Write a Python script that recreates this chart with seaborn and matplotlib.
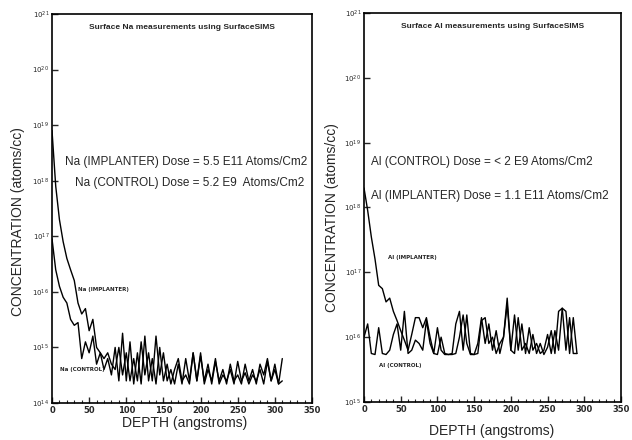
import matplotlib
matplotlib.use("Agg")
import matplotlib.pyplot as plt
import matplotlib.ticker as mticker
import seaborn as sns
import pandas as pd

# ---------------- data ----------------
na_depth = [0, 5, 10, 15, 20, 25, 30, 35, 40, 45, 50, 55, 60, 65, 70, 75, 80, 85, 90, 95,
            100, 105, 110, 115, 120, 125, 130, 135, 140, 145, 150, 155, 160, 165, 170, 175,
            180, 185, 190, 195, 200, 205, 210, 215, 220, 225, 230, 235, 240, 245, 250, 255,
            260, 265, 270, 275, 280, 285, 290, 295, 300, 305, 310]
na_implanter = [8e18, 8e17, 2e17, 8e16, 4e16, 2.5e16, 1.6e16, 6.3e15, 4e15, 5e15, 2e15, 3.2e15,
                1e15, 8e14, 6.3e14, 8e14, 5e14, 4e14, 1e15, 3.2e14,
                8e14, 2.5e14, 6.3e14, 2.5e14, 1.26e15, 3.2e14, 8e14, 2.5e14, 1.6e15, 3.2e14,
                8e14, 2.5e14, 4e14, 2.2e14, 5e14, 2.2e14, 6.3e14, 2.5e14, 8e14, 2.5e14,
                7e14, 2.5e14, 5e14, 2.2e14, 5.6e14, 2.5e14, 4e14, 2.2e14, 5e14, 2.5e14,
                3.2e14, 2.2e14, 5e14, 2.5e14, 4e14, 2.2e14, 5e14, 3.2e14, 6.3e14, 2.5e14,
                5e14, 2.2e14, 6.3e14]
na_control = [9e16, 2.5e16, 1.26e16, 8e15, 6.3e15, 3.2e15, 2.5e15, 2.8e15, 6.3e14, 1.26e15,
              8e14, 1.6e15, 5e14, 8e14, 4e14, 6.3e14, 3.2e14, 1e15, 2.5e14, 1.8e15,
              2.5e14, 1.26e15, 2.2e14, 8e14, 2.2e14, 1.6e15, 2.5e14, 6.3e14, 2.2e14, 1e15,
              2.5e14, 5e14, 2.2e14, 4e14, 6.3e14, 2.5e14, 3.2e14, 2.2e14, 8e14, 2.5e14,
              8e14, 2.2e14, 4e14, 2.5e14, 6.3e14, 2.2e14, 3.2e14, 2.5e14, 4e14, 2.2e14,
              5.6e14, 2.5e14, 3.5e14, 2.2e14, 3.2e14, 2.5e14, 4e14, 2.2e14, 5.6e14, 2.5e14,
              4e14, 2.2e14, 2.5e14]

al_depth = [0, 5, 10, 15, 20, 25, 30, 35, 40, 45, 50, 55, 60, 65, 70, 75, 80, 85, 90, 95,
            100, 105, 110, 115, 120, 125, 130, 135, 140, 145, 150, 155, 160, 165, 170, 175,
            180, 185, 190, 195, 200, 205, 210, 215, 220, 225, 230, 235, 240, 245, 250, 255,
            260, 265, 270, 275, 280, 285, 290]
al_implanter = [2e18, 9e17, 3.5e17, 1.6e17, 6.3e16, 5.6e16, 3.5e16, 4e16, 2.5e16, 1.8e16,
                1.26e16, 9e15, 6.3e15, 1.1e16, 2e16, 2e16, 1.4e16, 2e16, 1e16, 5.6e15,
                1.4e16, 6.3e15, 5.4e15, 5.4e15, 5.6e15, 1.6e16, 2.5e16, 6.3e15, 2.2e16, 5.6e15,
                5.4e15, 5.6e15, 1.8e16, 2e16, 8e15, 1e16, 5.6e15, 8e15, 1e16, 3.2e16,
                6.3e15, 2.2e16, 6.3e15, 1.6e16, 5.6e15, 1.4e16, 6.3e15, 8e15, 5.6e15, 6.3e15,
                1.1e16, 5.6e15, 1.26e16, 6.3e15, 2.8e16, 2.5e16, 5.6e15, 2e16, 5.6e15]
al_control = [1e16, 1.6e16, 5.6e15, 5.4e15, 1.4e16, 5.6e15, 5.4e15, 6.3e15, 1.1e16, 1.6e16,
              6.3e15, 2.5e16, 5.6e15, 6.3e15, 9e15, 8e15, 6.3e15, 1.8e16, 8e15, 5.6e15,
              5.4e15, 1e16, 5.6e15, 5.4e15, 5.4e15, 5.6e15, 1e16, 2.2e16, 8e15, 5.4e15,
              5.4e15, 8e15, 2e16, 8e15, 1.6e16, 6.3e15, 1.26e16, 5.6e15, 1e16, 4e16,
              6.3e15, 5.6e15, 2e16, 6.3e15, 8e15, 5.6e15, 1.1e16, 5.6e15, 8e15, 5.4e15,
              7e15, 1.26e16, 5.6e15, 2.5e16, 2.8e16, 6.3e15, 2e16, 5.6e15, 5.6e15]

x_ticks = [0, 50, 100, 150, 200, 250, 300, 350]
na_exponents = [14, 15, 16, 17, 18, 19, 20, 21]
al_exponents = [15, 16, 17, 18, 19, 20, 21]

na_title = "Surface Na measurements using SurfaceSIMS"
al_title = "Surface Al measurements using SurfaceSIMS"
y_label = "CONCENTRATION (atoms/cc)"
x_label = "DEPTH (angstroms)"

# ---------------- figure ----------------
sns.set_theme(style="ticks")
plt.rcParams["font.family"] = ["DejaVu Sans"]
NARROW = ["Liberation Sans", "DejaVu Sans"]

fig = plt.figure(figsize=(6.32, 4.40), dpi=100)
fig.patch.set_facecolor("white")
ax1 = fig.add_axes([52 / 632, 37 / 440, 260 / 632, 389 / 440])
ax2 = fig.add_axes([364 / 632, 38 / 440, 257 / 632, 389 / 440])

na_df = pd.DataFrame({
    "depth": na_depth * 2,
    "conc": na_implanter + na_control,
    "series": ["Na (IMPLANTER)"] * len(na_depth) + ["Na (CONTROL)"] * len(na_depth),
})
al_df = pd.DataFrame({
    "depth": al_depth * 2,
    "conc": al_implanter + al_control,
    "series": ["Al (IMPLANTER)"] * len(al_depth) + ["Al (CONTROL)"] * len(al_depth),
})

for ax, df, exps in [(ax1, na_df, na_exponents), (ax2, al_df, al_exponents)]:
    sns.lineplot(data=df, x="depth", y="conc", units="series", estimator=None,
                 color="black", linewidth=1.0, ax=ax, legend=False)
    ax.set_yscale("log")
    ax.set_xlim(0, 350)
    ax.set_ylim(10.0 ** exps[0], 10.0 ** exps[-1])
    ax.set_xticks(x_ticks)
    ax.set_xticklabels([str(v) for v in x_ticks], fontsize=6, fontweight="bold")
    ax.xaxis.set_minor_locator(mticker.MultipleLocator(10))
    ax.set_yticks([10.0 ** e for e in exps])
    ax.set_yticklabels([f"$10^{{{e}}}$" for e in exps], fontsize=5)
    ax.yaxis.set_minor_locator(mticker.NullLocator())
    ax.tick_params(axis="both", which="major", direction="in", length=4, width=1, pad=2)
    ax.tick_params(axis="x", which="minor", direction="in", length=2, width=0.8)
    for s in ax.spines.values():
        s.set_visible(True)
        s.set_linewidth(1.2)
        s.set_color("black")
    ax.set_xlabel("")
    ax.set_ylabel("")

# titles inside the panels
ax1.text(0.5, 0.965, na_title, transform=ax1.transAxes, ha="center", va="center",
         fontsize=6, fontweight="bold", family=NARROW)
ax2.text(0.5, 0.965, al_title, transform=ax2.transAxes, ha="center", va="center",
         fontsize=6, fontweight="bold", family=NARROW)

# dose annotations
ann = dict(fontsize=8.5, va="center", family=NARROW)
ax1.text(17, 10 ** 18.33, "Na (IMPLANTER) Dose = 5.5 E11 Atoms/Cm2", **ann)
ax1.text(31, 10 ** 17.96, "Na (CONTROL) Dose = 5.2 E9  Atoms/Cm2", **ann)
ax1.text(35, 10 ** 16.05, "Na (IMPLANTER)", fontsize=4, fontweight="bold", va="center")
ax1.text(11, 10 ** 14.6, "Na (CONTROL)", fontsize=4, fontweight="bold", va="center")

ax2.text(10, 10 ** 18.70, "Al (CONTROL) Dose = < 2 E9 Atoms/Cm2", **ann)
ax2.text(10, 10 ** 18.18, "Al (IMPLANTER) Dose = 1.1 E11 Atoms/Cm2", **ann)
ax2.text(33, 10 ** 17.23, "Al (IMPLANTER)", fontsize=4, fontweight="bold", va="center")
ax2.text(21, 10 ** 15.56, "Al (CONTROL)", fontsize=4, fontweight="bold", va="center")

# axis labels
lab = dict(ha="center", va="center", fontsize=10, family=NARROW)
fig.text(18 / 632, 1 - 222 / 440, y_label, rotation=90, **lab)
fig.text(332 / 632, 1 - 218 / 440, y_label, rotation=90, **lab)
fig.text(185 / 632, 1 - 423 / 440, x_label, **lab)
fig.text(492 / 632, 1 - 431 / 440, x_label, **lab)

fig.savefig("out.png", dpi=100, facecolor="white")
